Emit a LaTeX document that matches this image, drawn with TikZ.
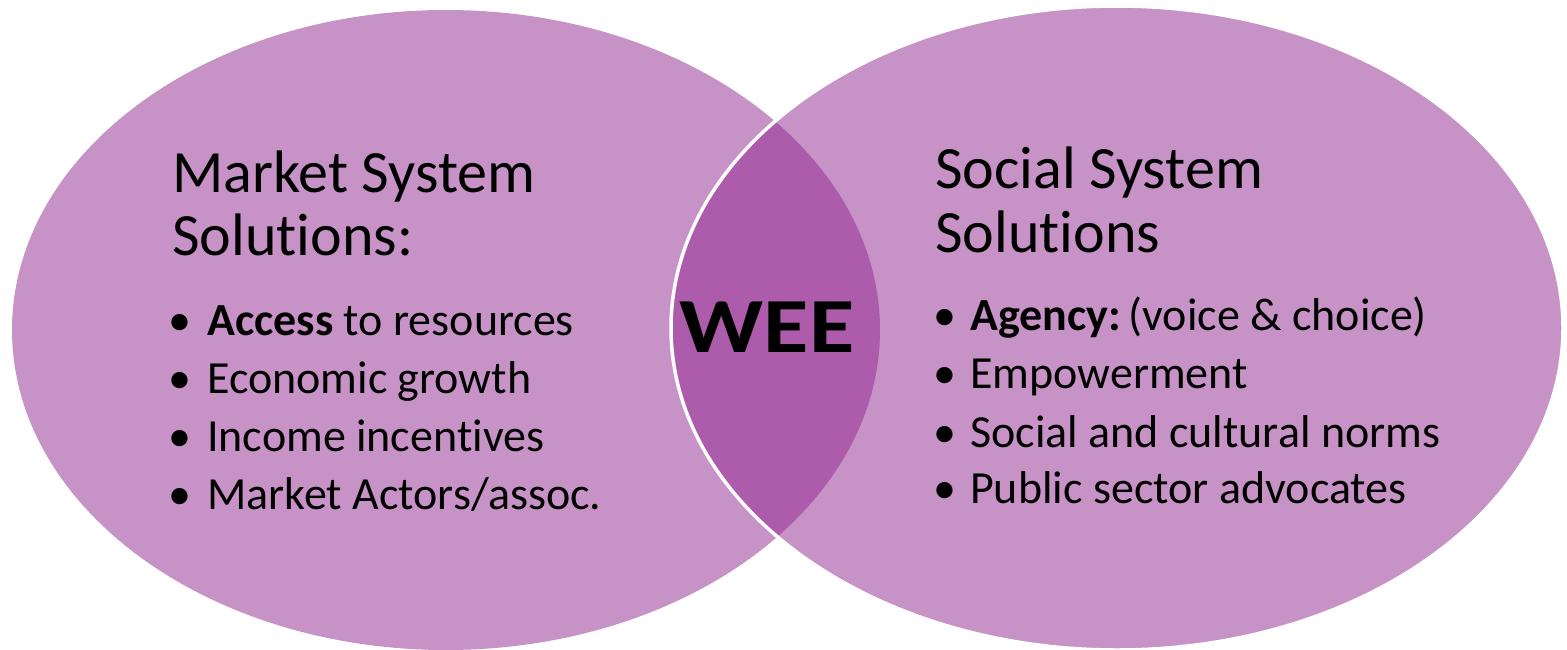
\documentclass[tikz,border=0pt]{standalone}
\usepackage{fontspec}
\setmainfont{Carlito}[RawFeature={-liga;-clig;-calt}]
\definecolor{lightpurple}{HTML}{C792C6}
\definecolor{darkpurple}{HTML}{AC5CAA}
\begin{document}
\begin{tikzpicture}[x=1pt,y=-1pt,
  title/.style={anchor=base west,inner sep=0pt,font=\fontsize{60}{60}\selectfont},
  item/.style={anchor=base west,inner sep=0pt,font=\fontsize{46}{46}\selectfont},
  dot/.style={anchor=base,inner sep=0pt,font=\fontsize{46}{46}\selectfont}]
\useasboundingbox (0,0) rectangle (1567,649);
\fill[lightpurple] (446,330) ellipse [x radius=434, y radius=320];
\fill[lightpurple] (1117,328) ellipse [x radius=446, y radius=322];
\begin{scope}
  \clip (446,330) ellipse [x radius=434, y radius=320];
  \fill[darkpurple] (1117,328) ellipse [x radius=446, y radius=322];
\end{scope}
\draw[white,line width=3.5] (1117,328) ellipse [x radius=446, y radius=322];
% left
\node[title] (lt1) at (172,192) {Market System};
\node[title] (lt2) at (172,255) {Solutions:};
\node[dot] (lb1) at (180,335) {\textbullet};
\node[dot] (lb2) at (180,393) {\textbullet};
\node[dot] (lb3) at (180,451) {\textbullet};
\node[dot] (lb4) at (180,509) {\textbullet};
\node[item] (li1) at (207,335) {\textbf{Access} to resources};
\node[item] (li2) at (207,393) {Economic growth};
\node[item] (li3) at (207,451) {Income incentives};
\node[item] (li4) at (207,509) {Market Actors/assoc.};
% right
\node[title] (rt1) at (935,188) {Social System};
\node[title] (rt2) at (935,252) {Solutions};
\node[dot] (rb1) at (945,330) {\textbullet};
\node[dot] (rb2) at (945,388) {\textbullet};
\node[dot] (rb3) at (945,447) {\textbullet};
\node[dot] (rb4) at (945,503) {\textbullet};
\node[item] (ri1) at (970,330) {\textbf{Agency:}\,(voice \& choice)};
\node[item] (ri2) at (970,388) {Empowerment};
\node[item] (ri3) at (970,447) {Social and cultural norms};
\node[item] (ri4) at (970,503) {Public sector advocates};
% center
\node[anchor=base,inner sep=0pt,font=\fontsize{78}{78}\selectfont\bfseries] (wee) at (767,352) {\scalebox{1.19}[1]{WEE}};
\end{tikzpicture}
\end{document}
